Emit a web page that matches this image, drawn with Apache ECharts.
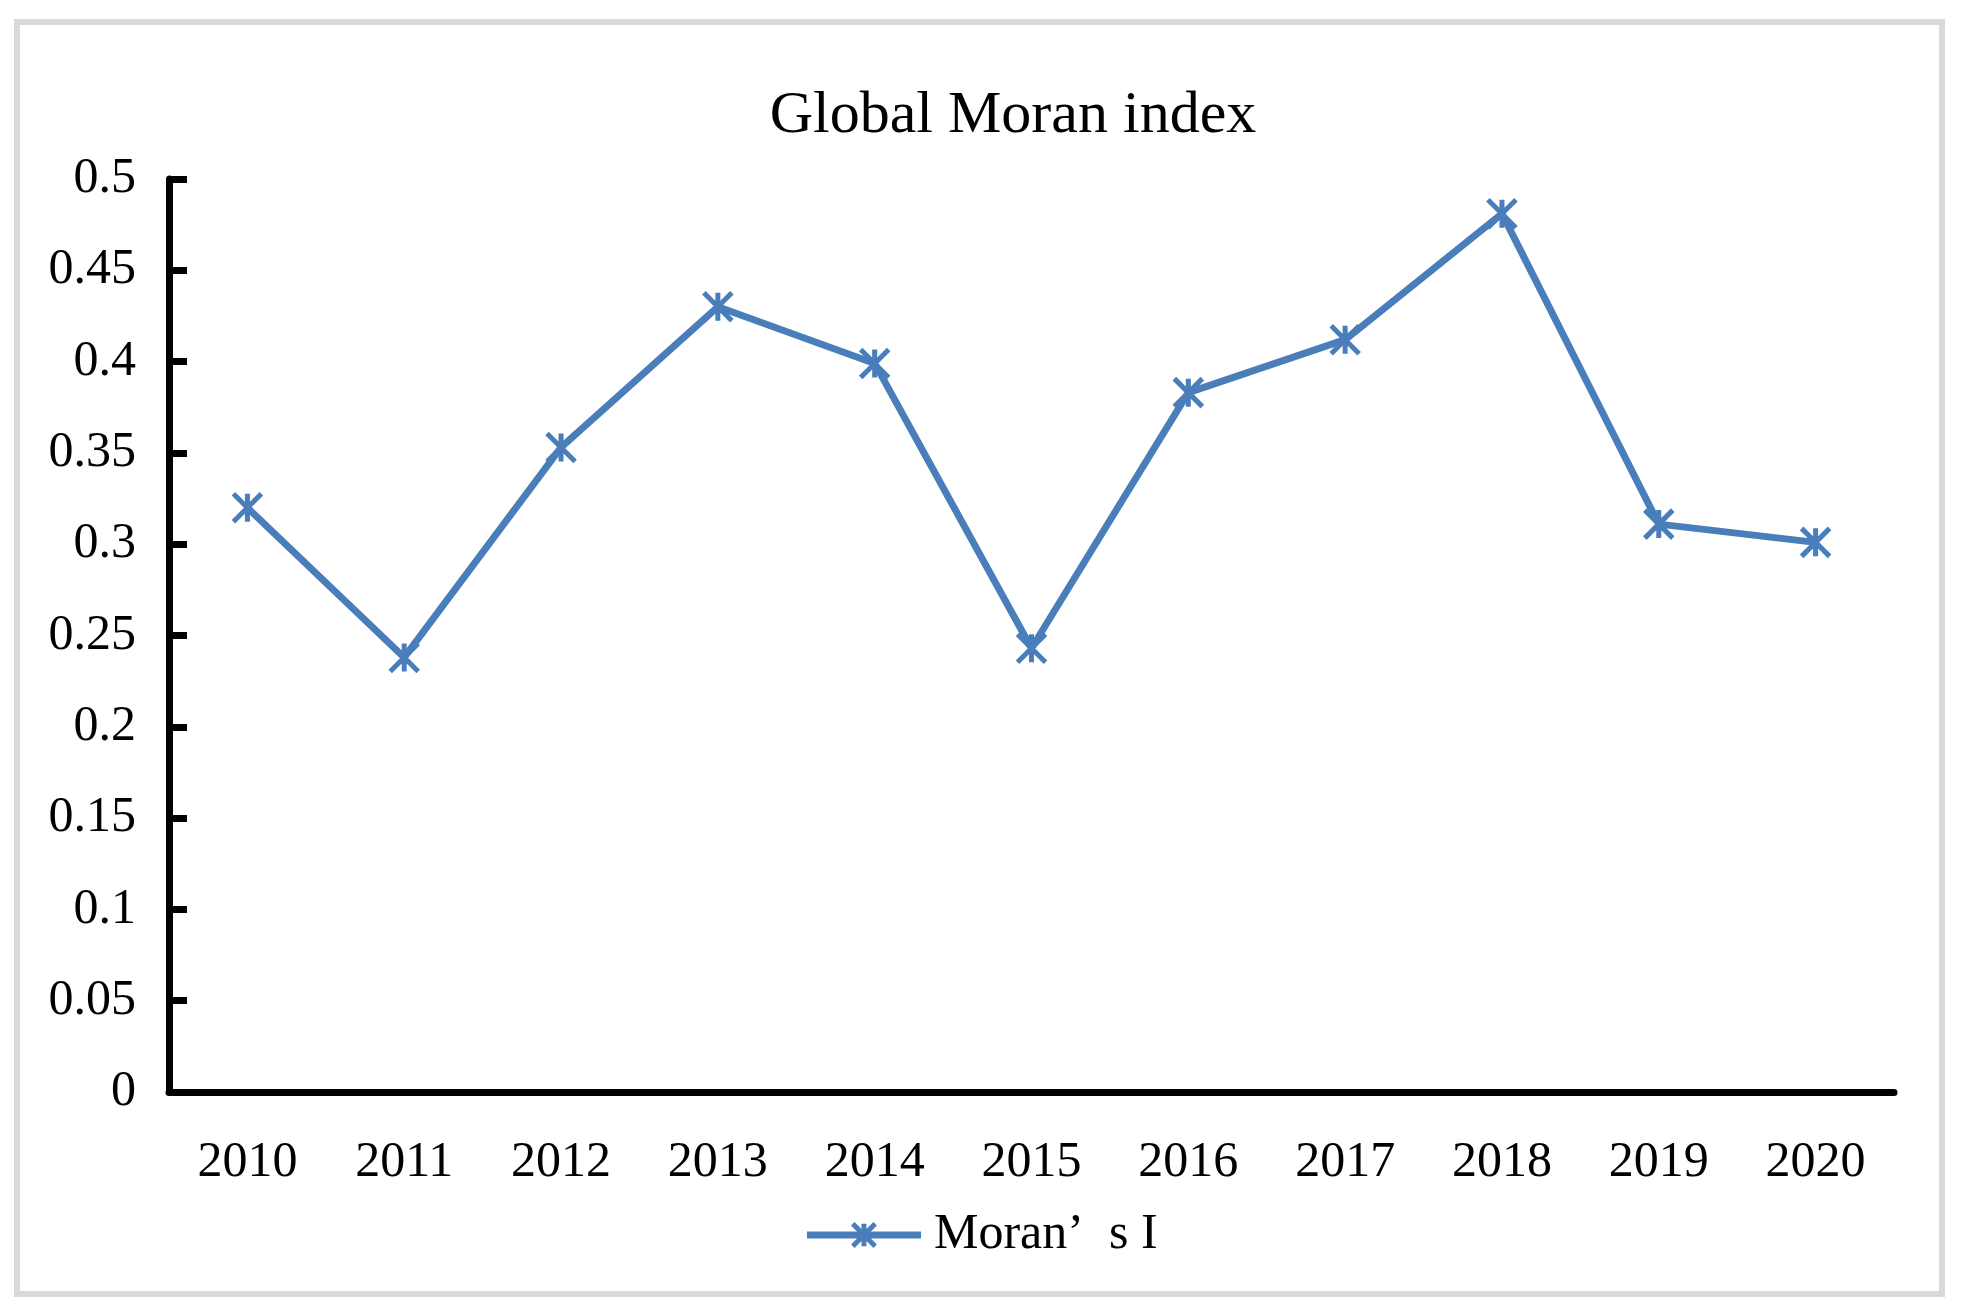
<!DOCTYPE html>
<html>
<head>
<meta charset="utf-8">
<script src="https://cdn.jsdelivr.net/npm/echarts@6/dist/echarts.min.js"></script>
<style>
html,body{margin:0;padding:0;background:#fff;}
#chart{width:1961px;height:1312px;}
</style>
</head>
<body>
<div id="chart"></div>
<script>
const categories = ['2010','2011','2012','2013','2014','2015','2016','2017','2018','2019','2020'];
const moranValues = [0.320, 0.238, 0.353, 0.430, 0.399, 0.243, 0.383, 0.412, 0.481, 0.311, 0.301];
const yTicks = [0, 0.05, 0.1, 0.15, 0.2, 0.25, 0.3, 0.35, 0.4, 0.45, 0.5];
const titleText = 'Global Moran index';
const seriesName = 'Moran\u2019  s I';

const FONT = '"Liberation Serif", "Times New Roman", serif';
const BLUE = '#4a7ebb';
const chart = echarts.init(document.getElementById('chart'));
chart.setOption({
  backgroundColor: '#ffffff',
  animation: false,
  graphic: [
    { type: 'rect', shape: { x: 17, y: 22, width: 1925, height: 1272 },
      style: { fill: 'none', stroke: '#d9d9d9', lineWidth: 6 }, silent: true },
    { type: 'text', x: 1013, y: 116,
      style: { text: titleText, fill: '#000', font: '60px ' + FONT, textAlign: 'center', textVerticalAlign: 'middle' } }
  ],
  grid: { left: 169, right: 67, top: 179, bottom: 220, containLabel: false },
  legend: {
    data: [seriesName],
    left: 'center',
    top: 1205,
    itemWidth: 114,
    itemHeight: 28,
    itemGap: 10,
    lineStyle: { color: BLUE, width: 7 },
    itemStyle: { color: BLUE, borderColor: BLUE, borderWidth: 5 },
    textStyle: { fontFamily: FONT, fontSize: 50, color: '#000', padding: [0, 0, 0, 8] }
  },
  xAxis: {
    type: 'category',
    data: categories,
    boundaryGap: true,
    axisLine: { lineStyle: { color: '#000', width: 7 } },
    axisTick: { inside: true, length: 16, lineStyle: { color: '#000', width: 7 } },
    axisLabel: { fontFamily: FONT, fontSize: 50, color: '#000', margin: 46 },
    splitLine: { show: false }
  },
  yAxis: {
    type: 'value',
    min: yTicks[0],
    max: yTicks[yTicks.length - 1],
    interval: 0.05,
    axisLine: { show: true, lineStyle: { color: '#000', width: 7 } },
    axisTick: { show: true, inside: true, length: 18, lineStyle: { color: '#000', width: 7 } },
    axisLabel: { fontFamily: FONT, fontSize: 50, color: '#000', margin: 33,
      formatter: v => String(+v.toFixed(2)) },
    splitLine: { show: false }
  },
  series: [{
    name: seriesName,
    type: 'line',
    data: moranValues,
    symbol: 'path://M0 0L10 10M10 0L0 10M5 0L5 10',
    symbolSize: 28,
    showSymbol: true,
    lineStyle: { color: BLUE, width: 7 },
    itemStyle: { color: BLUE, borderColor: BLUE, borderWidth: 5 }
  }]
});
</script>
</body>
</html>
